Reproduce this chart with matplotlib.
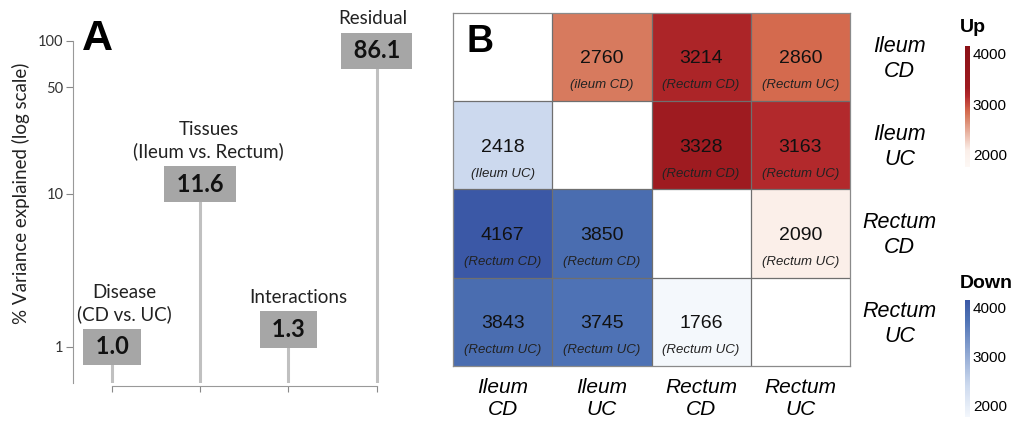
import numpy as np
import matplotlib
matplotlib.use('Agg')
import matplotlib.pyplot as plt
from matplotlib.colors import LinearSegmentedColormap, Normalize
from matplotlib.cm import ScalarMappable

# Panel A: variance components
factors = ['Disease\n(CD vs. UC)', 'Tissues\n(Ileum vs. Rectum)', 'Interactions', 'Residual']
variance = [1.0, 11.6, 1.3, 86.1]

# Panel B: number of DE genes (upper = up, lower = down)
groups = ['Ileum\nCD', 'Ileum\nUC', 'Rectum\nCD', 'Rectum\nUC']
counts = np.array([
    [np.nan, 2760, 3214, 2860],
    [2418, np.nan, 3328, 3163],
    [4167, 3850, np.nan, 2090],
    [3843, 3745, 1766, np.nan],
])
notes = [
    ['', '(ileum CD)', '(Rectum CD)', '(Rectum UC)'],
    ['(Ileum UC)', '', '(Rectum CD)', '(Rectum UC)'],
    ['(Rectum CD)', '(Rectum CD)', '', '(Rectum UC)'],
    ['(Rectum UC)', '(Rectum UC)', '(Rectum UC)', ''],
]
cbar_ticks = [2000, 3000, 4000]

# colour scale
vmin, vmax = 1760, 4150
up_nodes = [(1760, '#fdf8f5'), (2090, '#fbefe9'), (2760, '#d77b5e'), (2860, '#d4694d'),
            (3163, '#b2292c'), (3328, '#9e1b20'), (4150, '#8a1016')]
down_nodes = [(1760, '#f4f8fc'), (1766, '#f3f7fc'), (2418, '#ccd9ee'), (3745, '#4e72b5'),
              (3850, '#4a6db0'), (4150, '#3b58a6')]


def make_cmap(name, nodes):
    return LinearSegmentedColormap.from_list(
        name, [((v - vmin) / (vmax - vmin), c) for v, c in nodes])


cmap_up = make_cmap('up', up_nodes)
cmap_down = make_cmap('down', down_nodes)
norm = Normalize(vmin, vmax)

W, H = 1021, 422
fig = plt.figure(figsize=(W / 100, H / 100), dpi=100)


def box(x0, y0, x1, y1):
    # pixel box (top-left origin) -> figure fraction rect
    return [x0 / W, 1 - y1 / H, (x1 - x0) / W, (y1 - y0) / H]


# ---------------- Panel A ----------------
sans_a = ['Lato', 'DejaVu Sans']
axA = fig.add_axes(box(73, 41, 420, 383))
ybot = 0.58
xpos = np.arange(len(variance))
axA.set_yscale('log')
axA.set_ylim(ybot, 100)
axA.set_xlim(-0.44, 3.49)
axA.vlines(xpos, ybot, variance, color='#c0c0c0', lw=2.2, zorder=1)

label_dx = [9, 6, 7, -3]
for x, v, name, dx in zip(xpos, variance, factors, label_dx):
    axA.text(x, v, f' {v:.1f} ', ha='center', va='center', fontsize=17,
             fontweight='bold', family=sans_a, color='#111111', zorder=3,
             bbox=dict(boxstyle='square,pad=0.28', fc='#a6a6a6', ec='none'))
    axA.annotate(name, (x, v), xytext=(dx, 17), textcoords='offset points',
                 ha='center', va='bottom', fontsize=13.5, family=sans_a,
                 linespacing=1.3, color='#222222', annotation_clip=False)

axA.set_yticks([1, 10, 50, 100])
axA.set_yticklabels(['1', '10', '50', '100'], family=sans_a, fontsize=10.5, color='#333333')
axA.yaxis.set_minor_locator(matplotlib.ticker.NullLocator())
axA.set_xticks(xpos)
axA.set_xticklabels([])
axA.tick_params(axis='y', length=5, width=0.8, color='#888888', pad=2)
axA.tick_params(axis='x', length=4, width=0.8, color='#888888', direction='out')
for s in ['top', 'right']:
    axA.spines[s].set_visible(False)
axA.spines['left'].set_color('#999999')
axA.spines['bottom'].set_color('#999999')
axA.spines['bottom'].set_bounds(0, 3)
axA.spines['bottom'].set_position(('outward', 2))
axA.set_ylabel('% Variance explained (log scale)', family=sans_a, fontsize=13.5,
               color='#222222')
axA.yaxis.set_label_coords(-0.125, 0.556)
fig.text(82 / W, 1 - 19 / H, 'A', fontsize=31, fontweight='bold',
         family='Liberation Sans', va='top', ha='left')

# ---------------- Panel B ----------------
sans_b = ['Liberation Sans', 'DejaVu Sans']
axB = fig.add_axes(box(453, 13, 850, 366))
n = len(groups)
upper = np.where(np.triu(np.ones((n, n)), 1) > 0, counts, np.nan)
lower = np.where(np.tril(np.ones((n, n)), -1) > 0, counts, np.nan)
edges = np.arange(n + 1)
axB.pcolormesh(edges, edges, np.ma.masked_invalid(upper), cmap=cmap_up, norm=norm)
axB.pcolormesh(edges, edges, np.ma.masked_invalid(lower), cmap=cmap_down, norm=norm)
axB.set_xlim(0, n)
axB.set_ylim(n, 0)
for k in range(1, n):
    axB.axhline(k, color='#6f6f6f', lw=0.9)
    axB.axvline(k, color='#6f6f6f', lw=0.9)
for s in axB.spines.values():
    s.set_color('#8a8a8a')
    s.set_linewidth(0.9)
axB.set_xticks([])
axB.set_yticks([])

for i in range(n):
    for j in range(n):
        if np.isnan(counts[i, j]):
            continue
        axB.text(j + 0.5, i + 0.52, f'{int(counts[i, j])}', ha='center', va='center',
                 fontsize=14, family=sans_b, color='#111111')
        axB.text(j + 0.5, i + 0.82, notes[i][j], ha='center', va='center',
                 fontsize=9.5, style='italic', family=sans_b, color='#222222')

for k, g in enumerate(groups):
    axB.text(n + 0.5, k + 0.52, g, ha='center', va='center', fontsize=15.5,
             style='italic', family=sans_b, linespacing=1.25, clip_on=False)
    axB.text(k + 0.5, n + 0.37, g, ha='center', va='center', fontsize=15,
             style='italic', family=sans_b, linespacing=1.2, clip_on=False)

axB.text(0.14, 0.12, 'B', fontsize=27, fontweight='bold', family=sans_b,
         va='top', ha='left')

# colour bars
for cmap, title, (y0, y1), ty in [(cmap_up, 'Up', (46, 167), 28),
                                  (cmap_down, 'Down', (300, 417), 283)]:
    cax = fig.add_axes(box(965, y0, 970, y1))
    cb = fig.colorbar(ScalarMappable(norm=norm, cmap=cmap), cax=cax)
    cb.outline.set_visible(False)
    cb.set_ticks(cbar_ticks)
    cb.ax.tick_params(length=0, pad=2, labelsize=11)
    for t in cb.ax.get_yticklabels():
        t.set_family(sans_b)
    fig.text(960 / W, 1 - ty / H, title, fontsize=14, fontweight='bold',
             family=sans_b, va='center', ha='left')

fig.savefig('out.png', dpi=100)
